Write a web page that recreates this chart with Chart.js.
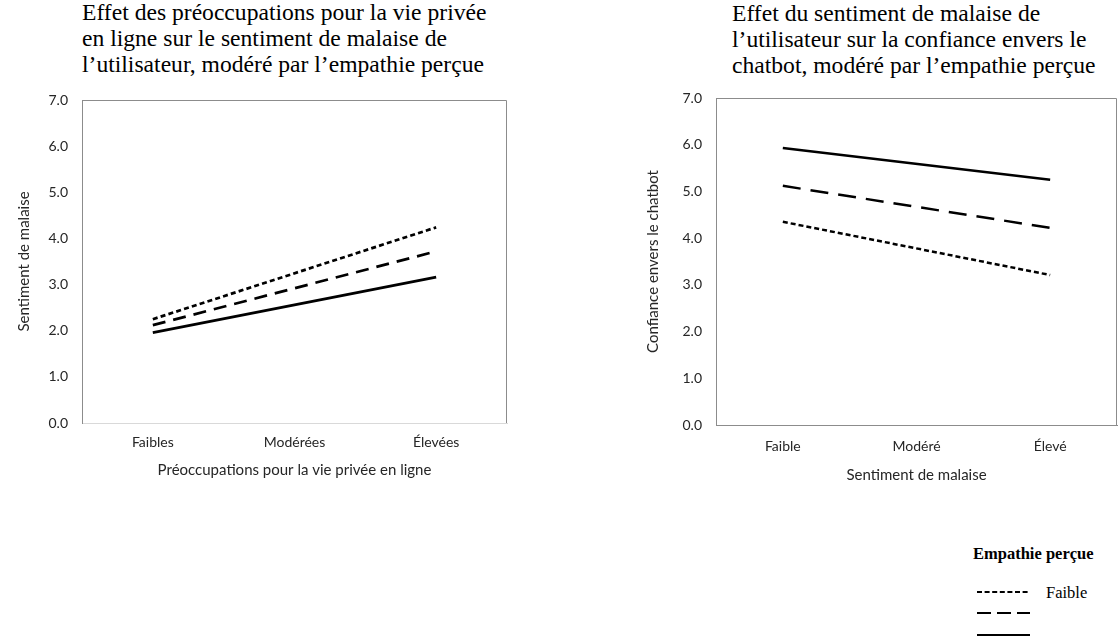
<!DOCTYPE html>
<html lang="fr">
<head>
<meta charset="utf-8">
<script src="https://cdn.jsdelivr.net/npm/chart.js@4.4.1/dist/chart.umd.min.js"></script>
<style>
  body { margin: 0; background: #fff; width: 1119px; height: 641px; position: relative; overflow: hidden; }
  .titre { position: absolute; font-family: "Liberation Serif", "Times New Roman", serif; font-size: 23.6px; line-height: 26px; color: #000; white-space: nowrap; }
  .box { position: absolute; top: 0; height: 500px; }
  #legende { position: absolute; left: 970px; top: 546px; font-family: "Liberation Serif", serif; color: #000; }
</style>
</head>
<body>
<div class="titre" style="left:82px; top:-1px;">Effet des préoccupations pour la vie privée<br>en ligne sur le sentiment de malaise de<br>l’utilisateur, modéré par l’empathie perçue</div>
<div class="titre" style="left:732px; top:0px;">Effet du sentiment de malaise de<br>l’utilisateur sur la confiance envers le<br>chatbot, modéré par l’empathie perçue</div>

<div class="box" style="left:0; width:520px;"><canvas id="gauche"></canvas></div>
<div class="box" style="left:600px; width:519px;"><canvas id="droite"></canvas></div>

<div id="legende">
  <div style="font-weight:bold; font-size:16.5px; position:absolute; left:3px; top:-2px; white-space:nowrap;">Empathie perçue</div>
  <svg width="150" height="95" style="position:absolute; left:0; top:0;">
    <line x1="7" y1="46" x2="60" y2="46" stroke="#000" stroke-width="2" stroke-dasharray="5,2.6"/>
    <line x1="7" y1="67" x2="60" y2="67" stroke="#000" stroke-width="2" stroke-dasharray="14,6"/>
    <line x1="7" y1="89" x2="60" y2="89" stroke="#000" stroke-width="2"/>
  </svg>
  <div style="position:absolute; left:76px; top:37px; font-size:16.5px; white-space:nowrap;">Faible</div>
</div>

<script>
// catégories
const categoriesGauche = ["Faibles", "Modérées", "Élevées"];
const categoriesDroite = ["Faible", "Modéré", "Élevé"];

// empathie perçue (faible = pointillé, moyenne = tirets, élevée = plein)
const malaiseFaible = [2.25, null, 4.24];
const malaiseMoyenne = [2.12, null, 3.72];
const malaiseElevee = [1.96, null, 3.16];

const confianceFaible = [4.35, null, 3.21];
const confianceMoyenne = [5.12, null, 4.22];
const confianceElevee = [5.93, null, 5.25];

const ticksY = [0, 1, 2, 3, 4, 5, 6, 7];

const policeAxe = { family: "Lato, 'Liberation Sans', sans-serif", size: 14 };
const policeTitre = { family: "Lato, 'Liberation Sans', sans-serif", size: 15 };

// cadre haut + droite autour de la zone de tracé
const cadre = {
  id: "cadre",
  afterDraw(chart, args, opts) {
    const a = chart.chartArea;
    const ctx = chart.ctx;
    ctx.save();
    ctx.strokeStyle = opts.color;
    ctx.lineWidth = 1;
    ctx.beginPath();
    ctx.moveTo(a.left, a.top + 0.5);
    ctx.lineTo(a.right - 0.5, a.top + 0.5);
    ctx.lineTo(a.right - 0.5, a.bottom);
    ctx.stroke();
    ctx.restore();
  }
};

function serie(label, data, dash, width) {
  return {
    label: label,
    data: data,
    borderColor: "#000",
    borderWidth: width,
    borderDash: dash,
    borderCapStyle: "butt",
    pointRadius: 0,
    spanGaps: true,
    tension: 0,
    fill: false
  };
}

function graphique(id, cats, datasets, o) {
  new Chart(document.getElementById(id), {
    type: "line",
    data: { labels: cats, datasets: datasets },
    plugins: [cadre],
    options: {
      responsive: true,
      maintainAspectRatio: false,
      animation: false,
      layout: { padding: { top: o.haut, right: o.droite, left: 0, bottom: 0 } },
      plugins: {
        legend: { display: false },
        tooltip: { enabled: false },
        cadre: { color: "#8c8c8c" }
      },
      scales: {
        x: {
          offset: true,
          grid: { display: false, drawTicks: false },
          border: { display: true, color: o.bordBas, width: 1 },
          ticks: { font: policeAxe, color: "#262626", padding: o.padX },
          title: { display: true, text: o.titreX, font: policeTitre, color: "#262626", padding: { top: 0, bottom: o.titreXbas } },
          afterFit: s => { s.height = o.hauteurX; }
        },
        y: {
          min: 0,
          max: 7,
          afterBuildTicks: s => { s.ticks = ticksY.map(v => ({ value: v })); },
          grid: { display: false, drawTicks: false },
          border: { display: true, color: "#8c8c8c", width: 1 },
          ticks: { font: policeAxe, color: "#262626", padding: 14, callback: v => Number(v).toFixed(1) },
          title: { display: true, text: o.titreY, font: policeTitre, color: "#262626", padding: { top: o.titreYpad, bottom: 0 } },
          afterFit: s => { s.width = o.largeurY; }
        }
      }
    }
  });
}

graphique("gauche", categoriesGauche, [
  serie("Faible", malaiseFaible, [5, 3.2], 2.7),
  serie("Modérée", malaiseMoyenne, [13, 8], 2.7),
  serie("Élevée", malaiseElevee, [], 2.7)
], {
  haut: 100, droite: 13, largeurY: 82, hauteurX: 77, padX: 11,
  bordBas: "#d9d9d9",
  titreX: "Préoccupations pour la vie privée en ligne", titreXbas: 21,
  titreY: "Sentiment de malaise", titreYpad: 15
});

graphique("droite", categoriesDroite, [
  serie("Faible", confianceFaible, [5, 3], 2.5),
  serie("Modérée", confianceMoyenne, [18, 10], 2.5),
  serie("Élevée", confianceElevee, [], 2.5)
], {
  haut: 98, droite: 2, largeurY: 116, hauteurX: 75, padX: 13,
  bordBas: "#8c8c8c",
  titreX: "Sentiment de malaise", titreXbas: 16,
  titreY: "Confiance envers le chatbot", titreYpad: 44
});
</script>
</body>
</html>
